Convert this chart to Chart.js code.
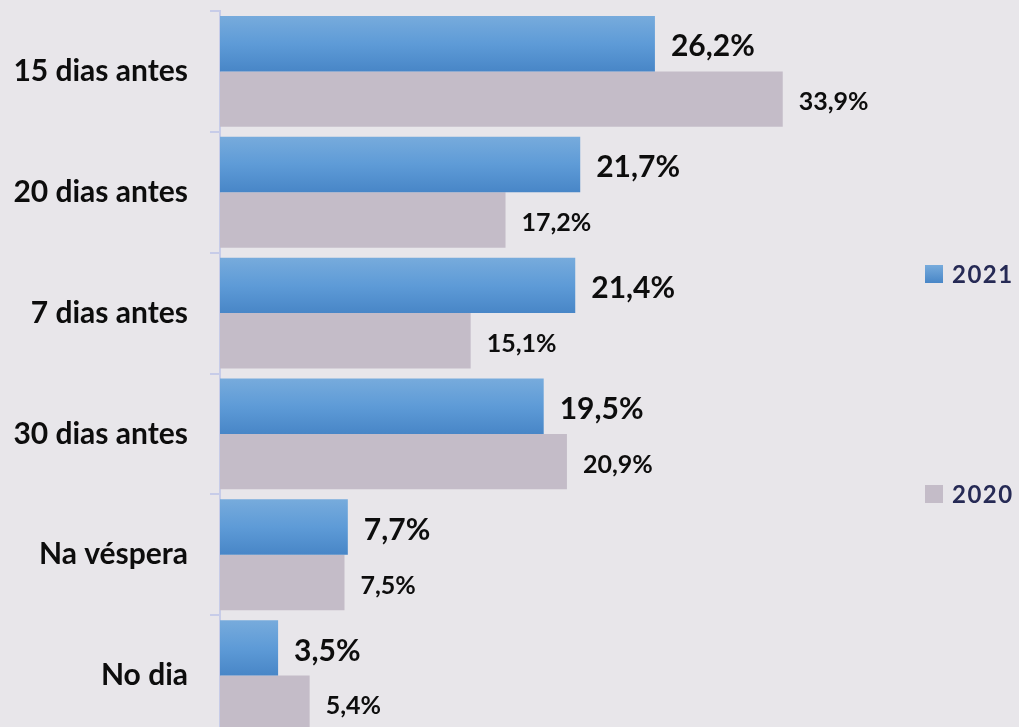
<!DOCTYPE html>
<html>
<head>
<meta charset="utf-8">
<script src="https://cdn.jsdelivr.net/npm/chart.js@4/dist/chart.umd.min.js"></script>
<style>
  html, body { margin: 0; padding: 0; background: #e8e6ea; overflow: hidden; width: 1019px; height: 727px; }
  canvas { display: block; }
</style>
</head>
<body>
<canvas id="c" width="1019" height="745"></canvas>
<script>
const categories = ["15 dias antes", "20 dias antes", "7 dias antes", "30 dias antes", "Na véspera", "No dia"];
const values2021 = [26.2, 21.7, 21.4, 19.5, 7.7, 3.5];
const values2020 = [33.9, 17.2, 15.1, 20.9, 7.5, 5.4];
const seriesNames = ["2021", "2020"];

const CAT_PCT = 0.917;
const FONT = "Lato, 'Open Sans', sans-serif";

function blueGradient(ctx) {
  const chart = ctx.chart;
  if (!chart.chartArea || ctx.dataIndex === undefined) return '#5b96d2';
  const ys = chart.scales.y;
  const c = ys.getPixelForValue(ctx.dataIndex);
  const half = (ys.height / categories.length) * CAT_PCT / 2;
  const g = chart.ctx.createLinearGradient(0, c - half, 0, c);
  g.addColorStop(0, '#77abdc');
  g.addColorStop(0.5, '#5e9bd7');
  g.addColorStop(1, '#4886c7');
  return g;
}

const labelPlugin = {
  id: 'valueLabels',
  afterDatasetsDraw(chart) {
    const ctx = chart.ctx;
    ctx.save();
    ctx.fillStyle = '#0d0d0d';
    ctx.textAlign = 'left';
    ctx.textBaseline = 'middle';
    chart.data.datasets.forEach((ds, di) => {
      const meta = chart.getDatasetMeta(di);
      ctx.font = di === 0 ? `bold 30px ${FONT}` : `bold 25px ${FONT}`;
      meta.data.forEach((el, i) => {
        const txt = ds.data[i].toFixed(1).replace('.', ',') + '%';
        ctx.fillText(txt, el.x + 16, el.y + 3);
      });
    });
    ctx.restore();
  }
};

const legendPlugin = {
  id: 'sideLegend',
  afterDraw(chart) {
    const ctx = chart.ctx;
    const ys = [274, 494];
    ctx.save();
    chart.data.datasets.forEach((ds, di) => {
      const y = ys[di];
      if (di === 0) {
        const g = ctx.createLinearGradient(0, y - 9, 0, y + 9);
        g.addColorStop(0, '#77abdc');
        g.addColorStop(1, '#4886c7');
        ctx.fillStyle = g;
      } else {
        ctx.fillStyle = '#c4bcc8';
      }
      ctx.fillRect(925, y - 9, 18, 18);
      ctx.fillStyle = '#262a55';
      ctx.font = `bold 24px ${FONT}`;
      ctx.textBaseline = 'middle';
      ctx.textAlign = 'left';
      try { ctx.letterSpacing = '1.5px'; } catch (e) {}
      ctx.fillText(ds.label, 952, y + 1);
    });
    ctx.restore();
  }
};

new Chart(document.getElementById('c'), {
  type: 'bar',
  data: {
    labels: categories,
    datasets: [
      { label: seriesNames[0], data: values2021, backgroundColor: blueGradient, borderWidth: 0 },
      { label: seriesNames[1], data: values2020, backgroundColor: '#c4bcc8', borderWidth: 0 }
    ]
  },
  options: {
    indexAxis: 'y',
    responsive: false,
    animation: false,
    layout: { padding: { top: 11, bottom: 9, left: 0, right: 135 } },
    datasets: { bar: { categoryPercentage: CAT_PCT, barPercentage: 1 } },
    plugins: { legend: { display: false }, tooltip: { enabled: false } },
    scales: {
      x: { display: false, min: 0, max: 40 },
      y: {
        afterFit(scale) { scale.width = 220; scale.paddingTop = 0; scale.paddingBottom = 0; },
        grid: { drawOnChartArea: false, drawTicks: true, tickLength: 10, color: '#c7cce8', lineWidth: 2 },
        border: { display: true, color: '#c7cce8', width: 2 },
        ticks: { color: '#0d0d0d', padding: 22, font: { family: FONT, size: 30, weight: 'bold' } }
      }
    }
  },
  plugins: [labelPlugin, legendPlugin]
});
</script>
</body>
</html>
